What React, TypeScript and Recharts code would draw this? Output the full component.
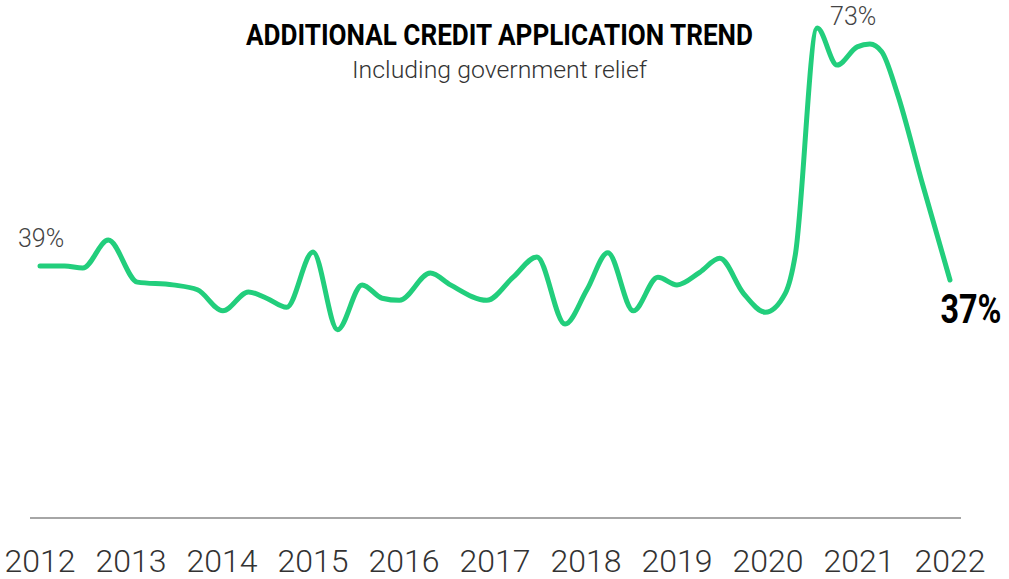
import React from "react";
import { LineChart, Line, XAxis, YAxis } from "recharts";

const title = "ADDITIONAL CREDIT APPLICATION TREND";
const subtitle = "Including government relief";

const years = [
  2012.0, 2012.27, 2012.47, 2012.75, 2013.07, 2013.46, 2013.73, 2014.01, 2014.29, 2014.49,
  2014.71, 2015.0, 2015.27, 2015.54, 2015.76, 2015.95, 2016.29, 2016.51, 2016.91, 2017.2,
  2017.46, 2017.77, 2018.01, 2018.24, 2018.52, 2018.79, 2019.0, 2019.25, 2019.47, 2019.73,
  2019.97, 2020.19, 2020.3, 2020.54, 2020.76, 2020.98, 2021.12, 2021.25, 2021.42, 2021.7,
  2022.0,
];
const values = [
  39.0, 39.0, 38.7, 42.7, 36.7, 36.3, 35.6, 32.6, 35.3, 34.4,
  33.1, 41.0, 29.9, 36.3, 34.4, 34.1, 38.0, 36.3, 34.1, 37.4,
  40.3, 30.7, 35.6, 40.9, 32.6, 37.4, 36.3, 38.1, 40.1, 35.1,
  32.4, 35.1, 40.6, 73.0, 67.7, 70.3, 70.7, 69.6, 63.7, 50.6,
  37.0,
];
const yearTicks = [2012, 2013, 2014, 2015, 2016, 2017, 2018, 2019, 2020, 2021, 2022];
const annotated = ["start", "peak", "end"];

const data = years.map((y, i) => ({ year: y, value: values[i] }));
const peakIndex = values.indexOf(Math.max(...values));

const LIGHT = "Roboto, 'Liberation Sans', sans-serif";
const BOLD = "Roboto, 'Liberation Sans', sans-serif";

function PointLabel(props: any) {
  const { x, y, index, value } = props;
  let kind = "";
  if (index === 0) kind = annotated[0];
  else if (index === peakIndex) kind = annotated[1];
  else if (index === data.length - 1) kind = annotated[2];
  if (!kind) return null;
  const text = `${Math.round(value)}%`;
  if (kind === "end") {
    return (
      <text
        x={x + 21}
        y={y + 43}
        textAnchor="middle"
        fontFamily={BOLD}
        fontWeight={700}
        fontSize={40}
        fill="#000"
        textLength={61}
        lengthAdjust="spacingAndGlyphs"
      >
        {text}
      </text>
    );
  }
  const dx = kind === "peak" ? 36 : 1;
  const dy = kind === "peak" ? -3 : -19;
  return (
    <text x={x + dx} y={y + dy} textAnchor="middle" fontFamily={LIGHT} fontWeight={300} fontSize={25} fill="#444">
      {text}
    </text>
  );
}

function YearTick(props: any) {
  const { x, y, payload } = props;
  return (
    <text x={x} y={y} dy={54} textAnchor="middle" fontFamily={LIGHT} fontWeight={300} fontSize={32} fill="#333">
      {payload.value}
    </text>
  );
}

export default function App() {
  return (
    <div style={{ position: "absolute", left: 0, top: 0, width: 1009, height: 579, background: "#fff" }}>
      <LineChart width={1009} height={579} data={data} margin={{ top: 0, right: 48, bottom: 0, left: 30 }}>
        <XAxis
          dataKey="year"
          type="number"
          domain={[2011.89, 2022.121]}
          ticks={yearTicks}
          allowDataOverflow
          height={61}
          tickSize={0}
          tickMargin={0}
          tickLine={false}
          axisLine={{ stroke: "#888", strokeWidth: 1.5 }}
          tick={<YearTick />}
          interval={0}
        />
        <YAxis hide domain={[3, 77]} allowDataOverflow />
        <Line
          type="monotone"
          dataKey="value"
          stroke="#22CE7C"
          strokeWidth={5}
          strokeLinecap="round"
          strokeLinejoin="round"
          dot={false}
          activeDot={false}
          isAnimationActive={false}
          label={<PointLabel />}
        />
      </LineChart>
      <svg
        width={1009}
        height={100}
        style={{ position: "absolute", left: 0, top: 0, pointerEvents: "none" }}
      >
        <text
          x={499.5}
          y={45}
          textAnchor="middle"
          fontFamily={BOLD}
          fontWeight={700}
          fontSize={30}
          fill="#000"
          textLength={507}
          lengthAdjust="spacingAndGlyphs"
        >
          {title}
        </text>
        <text
          x={499.5}
          y={78}
          textAnchor="middle"
          fontFamily={LIGHT}
          fontWeight={300}
          fontSize={24}
          fill="#333"
          textLength={295}
          lengthAdjust="spacingAndGlyphs"
        >
          {subtitle}
        </text>
      </svg>
    </div>
  );
}
